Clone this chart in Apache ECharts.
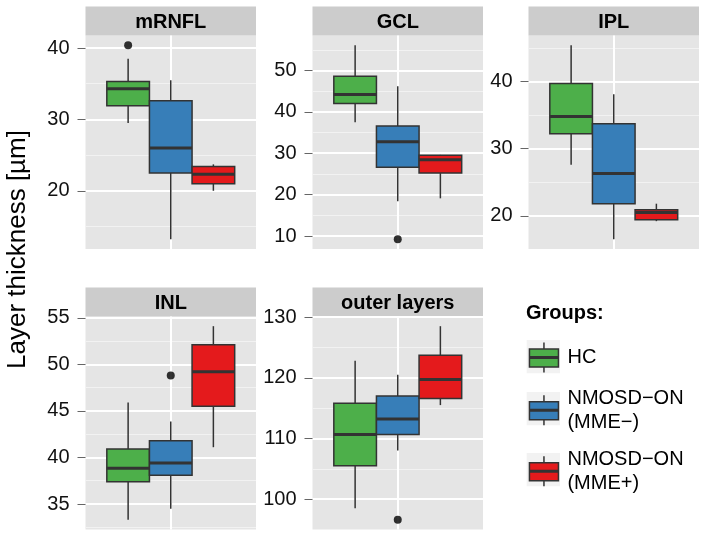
<!DOCTYPE html>
<html><head><meta charset="utf-8">
<script src="https://cdn.jsdelivr.net/npm/echarts@6/dist/echarts.min.js"></script>
<style>html,body{margin:0;padding:0;background:#fff}#c{width:705px;height:536px}</style>
</head><body><div id="c"></div>
<script>
// ---------------- data ----------------
const panels = ['mRNFL', 'GCL', 'IPL', 'INL', 'outer layers'];
const groups = ['HC', 'NMOSD\u2212ON (MME\u2212)', 'NMOSD\u2212ON (MME+)'];
// [lower whisker, Q1, median, Q3, upper whisker], one row per panel
const hcStats = [
  [29.5, 31.9, 34.3, 35.3, 38.5],
  [37.5, 42.0, 44.2, 48.6, 56.1],
  [27.6, 32.2, 34.8, 39.7, 45.4],
  [33.3, 37.4, 38.85, 40.9, 45.9],
  [98.5, 105.5, 110.65, 115.8, 122.8]
];
const mmeNegStats = [
  [13.2, 22.5, 26.0, 32.6, 35.5],
  [18.4, 26.6, 32.8, 36.6, 46.2],
  [16.5, 21.8, 26.3, 33.7, 38.1],
  [34.5, 38.1, 39.4, 41.8, 43.85],
  [108.0, 110.65, 113.2, 117.0, 120.5]
];
const mmePosStats = [
  [20.0, 21.0, 22.3, 23.4, 23.7],
  [19.1, 25.2, 28.4, 29.5, 29.6],
  [19.2, 19.4, 20.5, 20.9, 21.8],
  [41.1, 45.5, 49.2, 52.1, 54.1],
  [115.5, 116.6, 119.7, 123.7, 128.5]
];
const hcOutliers = [[40.4], [], [], [], []];
const mmeNegOutliers = [[], [9.2], [], [48.8], [96.6]];
const mmePosOutliers = [[], [], [], [], []];
const yTicks = [
  [20, 30, 40],
  [10, 20, 30, 40, 50],
  [20, 30, 40],
  [35, 40, 45, 50, 55],
  [100, 110, 120, 130]
];

// ---------------- style / layout ----------------
const FONT = 'Liberation Sans, Arial, Helvetica, sans-serif';
const colors = ['#4daf4a', '#377eb8', '#e41a1c'];
const statsByGroup = [hcStats, mmeNegStats, mmePosStats];
const outByGroup = [hcOutliers, mmeNegOutliers, mmePosOutliers];
const gridPos = [
  { left: 85.5, top: 35.5, width: 170.5, height: 213.5 },
  { left: 312.5, top: 35.5, width: 170.5, height: 213.5 },
  { left: 528.5, top: 35.5, width: 170.5, height: 213.5 },
  { left: 85.5, top: 316.5, width: 170.5, height: 213 },
  { left: 312.5, top: 316.5, width: 170.5, height: 213 }
];
const STRIP_H = 29;
const X_CENTER = 0.6, DODGE = 0.3, HALF = 0.15;

const chart = echarts.init(document.getElementById('c'), null, { renderer: 'canvas' });

const grids = [], xAxes = [], yAxes = [], series = [], graphics = [];

panels.forEach((name, p) => {
  const g = gridPos[p];
  grids.push(Object.assign({ show: true, backgroundColor: '#e5e5e5', borderWidth: 0 }, g));
  // y range: data range expanded by 5% on each side
  let lo = Infinity, hi = -Infinity;
  statsByGroup.forEach((s, k) => {
    lo = Math.min(lo, s[p][0], ...outByGroup[k][p]);
    hi = Math.max(hi, s[p][4], ...outByGroup[k][p]);
  });
  const span = hi - lo;
  const ymin = lo - 0.05 * span, ymax = hi + 0.05 * span;
  const step = yTicks[p][1] - yTicks[p][0];
  xAxes.push({
    type: 'value', gridIndex: p, min: 0, max: 1.2, interval: 0.6,
    axisLine: { show: false }, axisTick: { show: false }, axisLabel: { show: false },
    splitLine: { show: true, showMinLine: false, showMaxLine: false, lineStyle: { color: '#ffffff', width: 2 } }
  });
  yAxes.push({
    type: 'value', gridIndex: p, min: ymin, max: ymax,
    splitNumber: Math.round((ymax - ymin) / step),
    axisLine: { show: false },
    axisTick: { show: true, length: 8, customValues: yTicks[p], lineStyle: { color: '#666666', width: 1 } },
    axisLabel: { show: true, margin: 16, customValues: yTicks[p], color: '#111111', fontSize: 20, fontFamily: FONT },
    splitLine: { show: true, lineStyle: { color: '#ffffff', width: 2 } },
    minorTick: { show: false, splitNumber: 2 },
    minorSplitLine: { show: true, lineStyle: { color: '#f2f2f2', width: 1 } }
  });
  statsByGroup.forEach((s, k) => {
    const xpos = X_CENTER + (k - 1) * DODGE;
    series.push({
      type: 'custom', name: groups[k], xAxisIndex: p, yAxisIndex: p,
      itemStyle: { color: colors[k] },
      encode: { x: 0, y: [1, 2, 3, 4, 5] },
      data: [[xpos].concat(s[p])],
      renderItem: function (params, api) {
        const x = api.value(0);
        const xl = api.coord([x - HALF, 0])[0];
        const xr = api.coord([x + HALF, 0])[0];
        const xc = api.coord([x, 0])[0];
        const yv = [1, 2, 3, 4, 5].map(d => api.coord([x, api.value(d)])[1]);
        const ln = { stroke: '#333333', lineWidth: 1.5 };
        return {
          type: 'group', children: [
            { type: 'line', shape: { x1: xc, y1: yv[4], x2: xc, y2: yv[3] }, style: ln },
            { type: 'line', shape: { x1: xc, y1: yv[1], x2: xc, y2: yv[0] }, style: ln },
            { type: 'rect', shape: { x: xl, y: yv[3], width: xr - xl, height: yv[1] - yv[3] },
              style: { fill: api.visual('color'), stroke: '#333333', lineWidth: 1.5 } },
            { type: 'line', shape: { x1: xl, y1: yv[2], x2: xr, y2: yv[2] }, style: { stroke: '#333333', lineWidth: 3 } }
          ]
        };
      }
    });
    if (outByGroup[k][p].length) {
      series.push({
        type: 'scatter', name: 'outliers', xAxisIndex: p, yAxisIndex: p,
        symbol: 'circle', symbolSize: 8, itemStyle: { color: '#000000' }, z: 5,
        data: outByGroup[k][p].map(v => [xpos, v])
      });
    }
  });
  // facet strip
  graphics.push({
    type: 'rect', shape: { x: g.left, y: g.top - STRIP_H, width: g.width, height: STRIP_H },
    style: { fill: '#cccccc' }, z: 0
  });
  graphics.push({
    type: 'text', x: g.left + g.width / 2, y: g.top - STRIP_H / 2 + 1,
    style: { text: name, font: 'bold 20px ' + FONT, fill: '#000', textAlign: 'center', textVerticalAlign: 'middle' }, z: 1
  });
});

// y-axis title
graphics.push({
  type: 'text', x: 17.5, y: 249.5, rotation: Math.PI / 2,
  style: { text: 'Layer thickness [\u00b5m]', font: '26px ' + FONT, fill: '#000', textAlign: 'center', textVerticalAlign: 'middle' }
});
// legend title
graphics.push({
  type: 'text', x: 526, y: 313,
  style: { text: 'Groups:', font: 'bold 20px ' + FONT, fill: '#000', textAlign: 'left', textVerticalAlign: 'middle' }
});
// legend key backgrounds
[356.7, 408.7, 469.7].forEach(cy => {
  graphics.push({ type: 'rect', shape: { x: 526.7, y: cy - 16.65, width: 33.3, height: 33.3 }, style: { fill: '#f2f2f2' }, z: 0 });
});

const option = {
  animation: false,
  backgroundColor: '#ffffff',
  grid: grids, xAxis: xAxes, yAxis: yAxes, series: series,
  legend: {
    data: groups, orient: 'vertical', left: 526.7, top: 341.7, padding: 0, itemGap: 13,
    itemWidth: 35, itemHeight: 30, selectedMode: false, z: 10,
    icon: 'path://M0,0M35,0M16.5,0L16.5,6.5M2,6.5L31,6.5L31,14.25L2,14.25ZM2,15.75L31,15.75L31,24.5L2,24.5ZM16.5,24.5L16.5,30',
    itemStyle: { borderColor: '#333333', borderWidth: 1.5 },
    textStyle: { fontSize: 20, lineHeight: 24, color: '#000', fontFamily: FONT },
    formatter: n => n.replace(' (', '\n(')
  },
  graphic: graphics
};
chart.setOption(option);
</script>
</body></html>
